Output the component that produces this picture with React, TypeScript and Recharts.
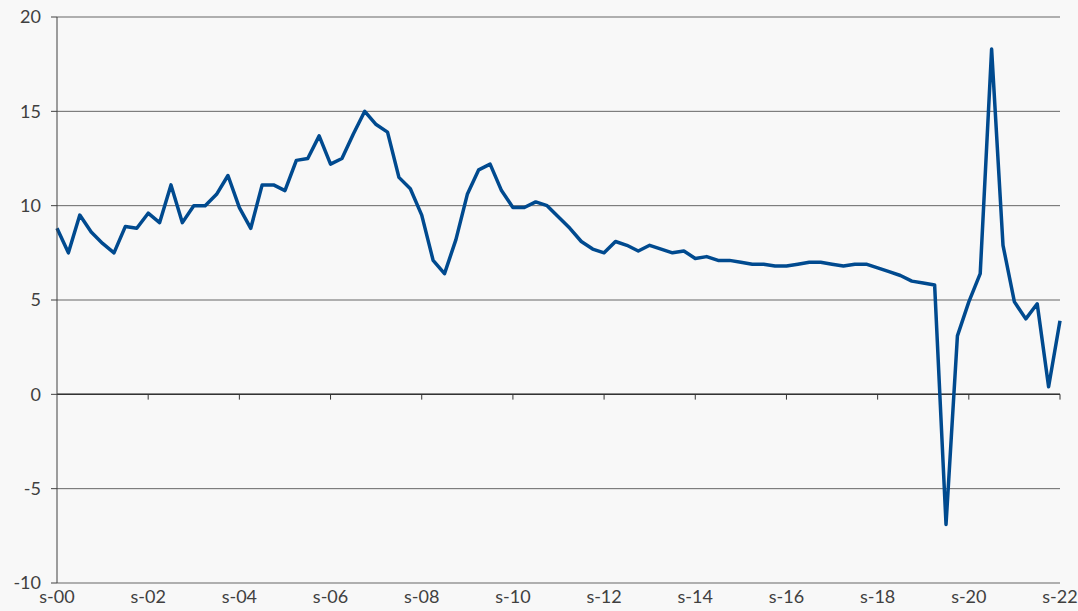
import { LineChart, Line, XAxis, YAxis, CartesianGrid, ReferenceLine } from 'recharts';

// quarters from sep-2000 to sep-2022, spanish month initials
const quarterLetters = ['s', 'd', 'm', 'j'];
const startYear = 2000;

const values = [
  8.8, 7.5, 9.5, 8.6, 8.0, 7.5, 8.9, 8.8, 9.6, 9.1,
  11.1, 9.1, 10.0, 10.0, 10.6, 11.6, 9.9, 8.8, 11.1, 11.1,
  10.8, 12.4, 12.5, 13.7, 12.2, 12.5, 13.8, 15.0, 14.3, 13.9,
  11.5, 10.9, 9.5, 7.1, 6.4, 8.2, 10.6, 11.9, 12.2, 10.8,
  9.9, 9.9, 10.2, 10.0, 9.4, 8.8, 8.1, 7.7, 7.5, 8.1,
  7.9, 7.6, 7.9, 7.7, 7.5, 7.6, 7.2, 7.3, 7.1, 7.1,
  7.0, 6.9, 6.9, 6.8, 6.8, 6.9, 7.0, 7.0, 6.9, 6.8,
  6.9, 6.9, 6.7, 6.5, 6.3, 6.0, 5.9, 5.8, -6.9, 3.1,
  4.9, 6.4, 18.3, 7.9, 4.9, 4.0, 4.8, 0.4, 3.9,
];

const yTicks = [-10, -5, 0, 5, 10, 15, 20];

// s and d belong to the start year, m and j to the next one
const categories = values.map((_, i) => {
  const year = startYear + Math.floor((i + 2) / 4);
  return `${quarterLetters[i % 4]}-${String(year).slice(2)}`;
});

const data = values.map((v, i) => ({ period: categories[i], value: v }));

// every 8th quarter gets a label and a tick on the zero line
const labelTicks = categories.filter((_, i) => i % 8 === 0);

const font = { fontFamily: 'Lato, "Open Sans", sans-serif', fontSize: 18, fill: '#404040' };

const App = () => {
  return (
    <div style={{ position: 'absolute', left: 0, top: 0, width: 1078, height: 611, background: '#f8f8f8' }}>
      <LineChart
        width={1078}
        height={611}
        data={data}
        margin={{ top: 17, right: 18, bottom: 0, left: 0 }}
      >
        <CartesianGrid horizontal vertical={false} stroke="#666" strokeWidth={1} />
        <XAxis
          dataKey="period"
          interval={7}
          axisLine={false}
          tickLine={false}
          tickSize={0}
          tickMargin={7}
          height={28}
          tick={font}
        />
        <YAxis
          domain={[-10, 20]}
          ticks={yTicks}
          width={57}
          axisLine={{ stroke: '#404040' }}
          tickLine={{ stroke: '#404040' }}
          tickSize={6}
          tickMargin={10}
          tick={font}
        />
        <ReferenceLine y={0} stroke="#333" strokeWidth={1.5} />
        {labelTicks.slice(1).map((c) => (
          <ReferenceLine
            key={c}
            segment={[
              { x: c, y: 0 },
              { x: c, y: -0.28 },
            ]}
            stroke="#333"
            strokeWidth={1}
          />
        ))}
        <Line
          dataKey="value"
          stroke="#004a8f"
          strokeWidth={3.5}
          dot={false}
          isAnimationActive={false}
          strokeLinejoin="round"
        />
      </LineChart>
    </div>
  );
};

export default App;
